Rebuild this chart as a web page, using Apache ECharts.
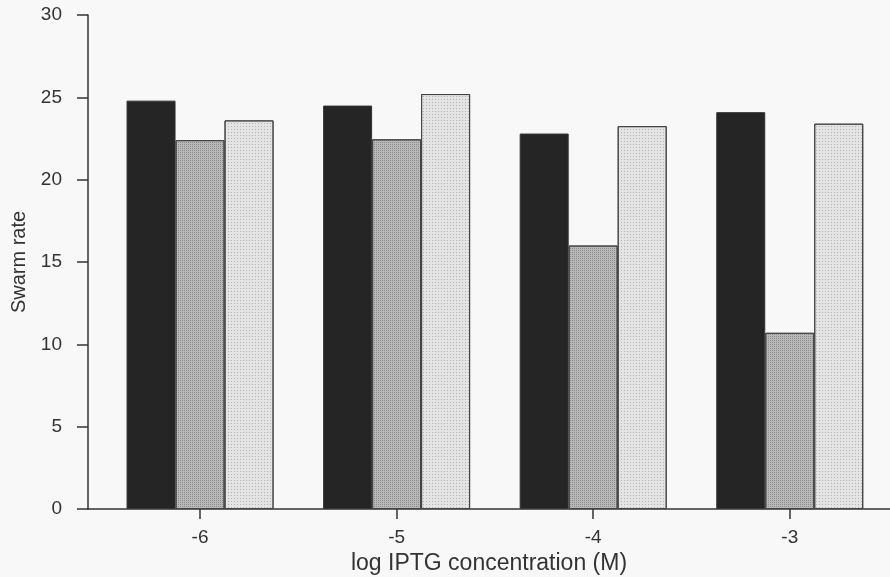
<!DOCTYPE html>
<html>
<head>
<meta charset="utf-8">
<script src="https://cdn.jsdelivr.net/npm/echarts@6/dist/echarts.min.js"></script>
<style>
  html, body { margin: 0; padding: 0; background: #f8f8f8; }
  #chart { width: 890px; height: 577px; }
</style>
</head>
<body>
<div id="chart"></div>
<script>
// log IPTG concentration on the x axis
const concentrations = [-6, -5, -4, -3];
const yTicks = [0, 5, 10, 15, 20, 25, 30];

// three bar groups
const darkBars = [24.8, 24.5, 22.8, 24.1];
const midBars = [22.4, 22.45, 16.0, 10.7];
const lightBars = [23.6, 25.2, 23.25, 23.4];

const toPairs = vals => vals.map((v, i) => [concentrations[i], v]);

const textColor = '#333';
const lineColor = '#333';

const chart = echarts.init(document.getElementById('chart'));
chart.setOption({
  backgroundColor: '#f8f8f8',
  animation: false,
  grid: { left: 88, right: 0, top: 15, bottom: 68, outerBoundsMode: 'none' },
  xAxis: {
    type: 'value',
    min: -6.57,
    max: -2.49,
    name: 'log IPTG concentration (M)',
    nameLocation: 'middle',
    nameGap: 40,
    nameTextStyle: { fontFamily: 'Liberation Sans', fontSize: 23, color: textColor },
    splitLine: { show: false },
    axisLine: { show: true, lineStyle: { color: lineColor, width: 1.5 } },
    axisTick: { show: true, length: 10, customValues: concentrations, lineStyle: { color: lineColor, width: 1.5 } },
    axisLabel: {
      customValues: concentrations,
      margin: 19,
      fontFamily: 'Liberation Sans',
      fontSize: 19,
      color: textColor
    }
  },
  yAxis: {
    type: 'value',
    min: yTicks[0],
    max: yTicks[yTicks.length - 1],
    interval: 5,
    name: 'Swarm rate',
    nameLocation: 'middle',
    nameGap: 57,
    nameTextStyle: { fontFamily: 'Liberation Sans', fontSize: 20, color: textColor },
    splitLine: { show: false },
    axisLine: { show: true, lineStyle: { color: lineColor, width: 1.5 } },
    axisTick: { show: true, length: 11, lineStyle: { color: lineColor, width: 1.5 } },
    axisLabel: { margin: 26, fontFamily: 'Liberation Sans', fontSize: 19, color: textColor }
  },
  series: [
    {
      type: 'bar',
      data: toPairs(darkBars),
      barWidth: 49,
      barGap: '0%',
      itemStyle: { color: '#252525', borderColor: '#333', borderWidth: 1 }
    },
    {
      type: 'bar',
      data: toPairs(midBars),
      barWidth: 49,
      barGap: '0%',
      itemStyle: {
        color: '#b8b8b8',
        borderColor: '#444',
        borderWidth: 1,
        decal: { symbol: 'rect', symbolSize: 1, dashArrayX: [1, 1], dashArrayY: [1, 1], color: 'rgba(60,60,60,0.35)' }
      }
    },
    {
      type: 'bar',
      data: toPairs(lightBars),
      barWidth: 49,
      barGap: '0%',
      itemStyle: {
        color: '#e4e4e4',
        borderColor: '#444',
        borderWidth: 1,
        decal: { symbol: 'rect', symbolSize: 1, dashArrayX: [1, 2], dashArrayY: [1, 2], color: 'rgba(90,90,90,0.35)' }
      }
    }
  ]
});
</script>
</body>
</html>
